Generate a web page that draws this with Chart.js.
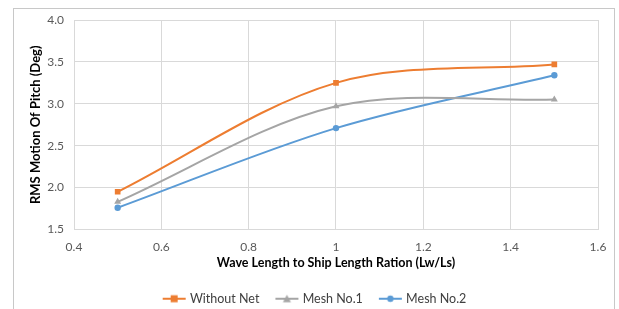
<!DOCTYPE html>
<html>
<head>
<meta charset="utf-8">
<script src="https://cdn.jsdelivr.net/npm/chart.js@4"></script>
<style>
  html, body { margin: 0; padding: 0; background: #fff; }
  #wrap { position: relative; width: 619px; height: 309px; }
</style>
</head>
<body>
<div id="wrap"><canvas id="pitchChart" width="619" height="309"></canvas></div>
<script>
const ratios = [0.5, 1, 1.5];
const withoutNet = [1.95, 3.25, 3.47];
const meshNo1 = [1.83, 2.97, 3.05];
const meshNo2 = [1.76, 2.71, 3.34];
const seriesNames = ['Without Net', 'Mesh No.1', 'Mesh No.2'];
const colors = ['#ED7D31', '#A5A5A5', '#5B9BD5'];
const markers = ['rect', 'triangle', 'circle'];

const FONT = 'Lato, "Open Sans", sans-serif';

function toPoints(vals) {
  return ratios.map((r, i) => ({ x: r, y: vals[i] }));
}

// legend icon: short line with marker, shifted right so text sits close
function legendIcon(color, marker) {
  const c = document.createElement('canvas');
  c.width = 30; c.height = 10;
  const g = c.getContext('2d');
  g.strokeStyle = color;
  g.lineWidth = 2;
  g.beginPath(); g.moveTo(6, 5); g.lineTo(29, 5); g.stroke();
  g.fillStyle = color;
  const cx = 17.5;
  if (marker === 'rect') {
    g.fillRect(cx - 3.5, 1.5, 7, 7);
  } else if (marker === 'triangle') {
    g.beginPath(); g.moveTo(cx, 1); g.lineTo(cx + 4, 8.5); g.lineTo(cx - 4, 8.5); g.closePath(); g.fill();
  } else {
    g.beginPath(); g.arc(cx, 5, 3.2, 0, Math.PI * 2); g.fill();
  }
  return c;
}

const frame = {
  id: 'frame',
  beforeDraw(chart) {
    const ctx = chart.ctx;
    ctx.save();
    ctx.fillStyle = '#fff';
    ctx.fillRect(0, 0, chart.width, chart.height);
    ctx.strokeStyle = '#C8C8C8';
    ctx.lineWidth = 1;
    ctx.strokeRect(13.5, 8.5, 601, 320);
    ctx.restore();
  }
};

const datasets = [withoutNet, meshNo1, meshNo2].map((vals, i) => ({
  label: seriesNames[i],
  data: toPoints(vals),
  borderColor: colors[i],
  backgroundColor: colors[i],
  borderWidth: 2,
  pointStyle: markers[i],
  pointRadius: i === 2 ? 3.2 : 4,
  pointBorderWidth: 0,
  tension: 0.33,
  fill: false
}));

new Chart(document.getElementById('pitchChart'), {
  type: 'line',
  data: { datasets: datasets },
  options: {
    responsive: false,
    animation: false,
    layout: { padding: { left: 28, right: 21, top: 20, bottom: -6 } },
    plugins: {
      tooltip: { enabled: false },
      legend: {
        position: 'bottom',
        labels: {
          usePointStyle: true,
          pointStyleWidth: 24,
          padding: 13,
          color: '#404040',
          font: { family: FONT, size: 12.5 },
          generateLabels(chart) {
            return chart.data.datasets.map((ds, i) => ({
              text: ds.label,
              pointStyle: legendIcon(colors[i], markers[i]),
              fillStyle: colors[i],
              strokeStyle: colors[i],
              lineWidth: 0,
              fontColor: '#404040',
              datasetIndex: i
            }));
          }
        }
      }
    },
    scales: {
      x: {
        type: 'linear',
        min: 0.4,
        max: 1.6,
        ticks: {
          stepSize: 0.2,
          padding: 10,
          color: '#595959',
          font: { family: FONT, size: 12 },
          callback: v => String(Number(v.toFixed(1)))
        },
        grid: { color: '#D9D9D9', drawTicks: false },
        border: { color: '#D9D9D9' },
        title: {
          display: true,
          text: 'Wave Length to Ship Length Ration (Lw/Ls)',
          color: '#000',
          font: { family: FONT, size: 12.5, weight: 'bold' },
          padding: { top: 4, bottom: 9 }
        },
        afterFit(scale) { scale.height = 50; }
      },
      y: {
        min: 1.5,
        max: 4.0,
        ticks: {
          stepSize: 0.5,
          padding: 10,
          color: '#595959',
          font: { family: FONT, size: 12 },
          callback: v => v.toFixed(1)
        },
        grid: { color: '#D9D9D9', drawTicks: false },
        border: { color: '#D9D9D9' },
        title: {
          display: true,
          text: 'RMS Motion Of Pitch (Deg)',
          color: '#000',
          font: { family: FONT, size: 13, weight: 'bold' },
          padding: { top: 0, bottom: 0 }
        },
        afterFit(scale) { scale.width = 46; }
      }
    }
  },
  plugins: [frame]
});
</script>
</body>
</html>
